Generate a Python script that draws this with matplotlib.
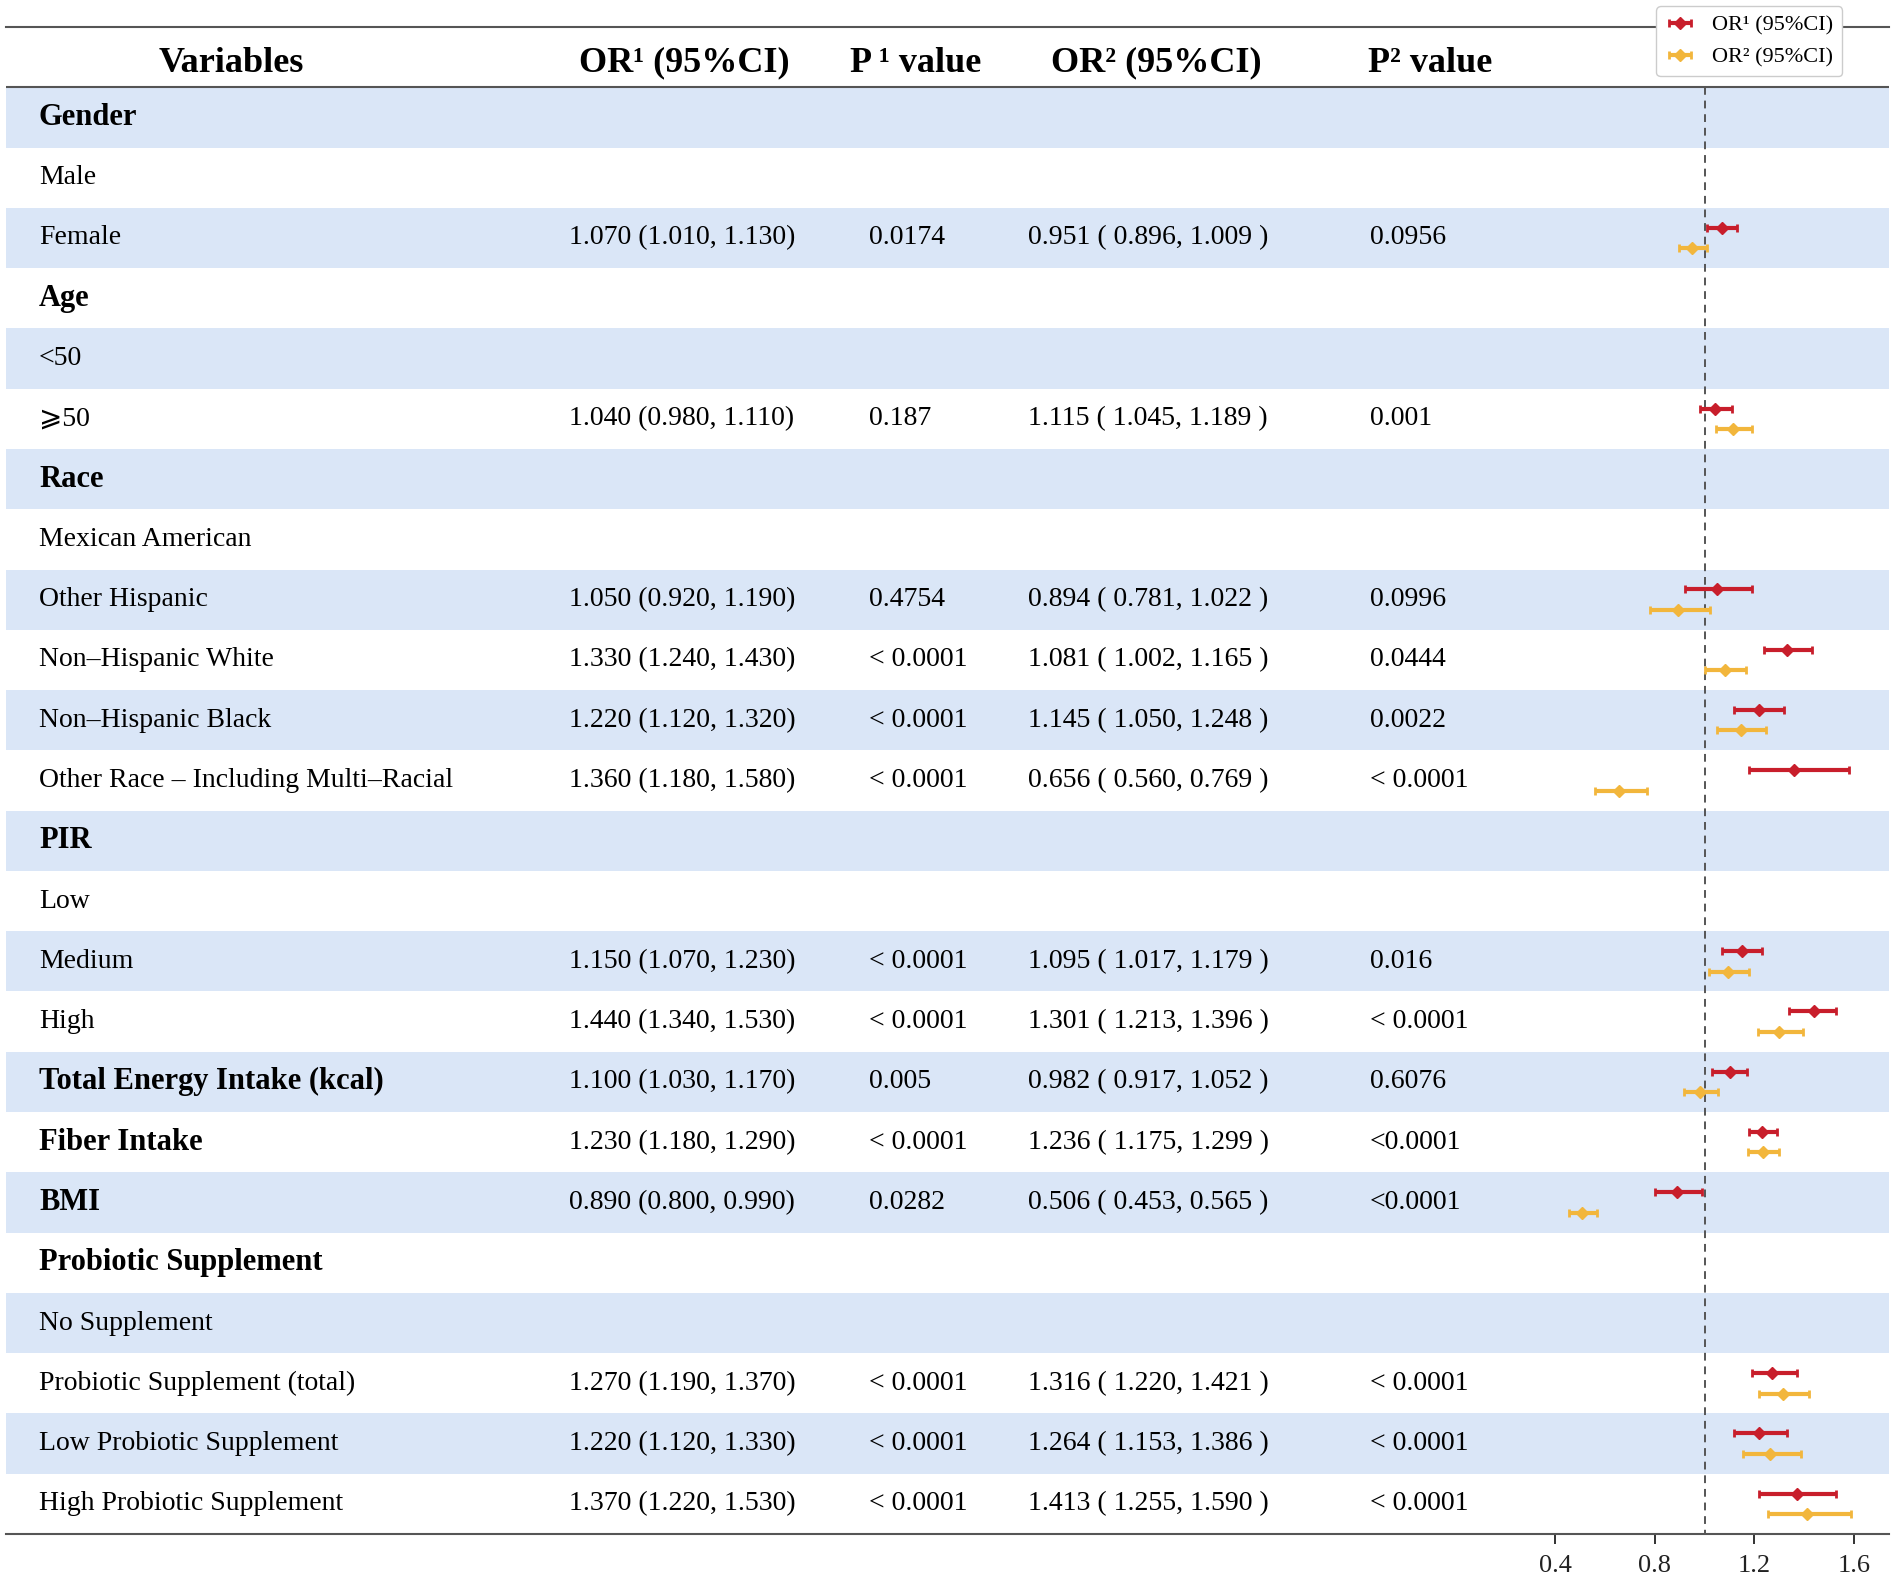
import numpy as np
import matplotlib.pyplot as plt

plt.rcParams['font.family'] = ['Liberation Serif', 'DejaVu Serif', 'DejaVu Sans']

# ---------------------------------------------------------------
# table data
labels = ['Gender', 'Male', 'Female',
          'Age', '<50', '\u2a7e50',
          'Race', 'Mexican American', 'Other Hispanic', 'Non\u2013Hispanic White',
          'Non\u2013Hispanic Black', 'Other Race \u2013 Including Multi\u2013Racial',
          'PIR', 'Low', 'Medium', 'High',
          'Total Energy Intake (kcal)', 'Fiber Intake', 'BMI',
          'Probiotic Supplement', 'No Supplement', 'Probiotic Supplement (total)',
          'Low Probiotic Supplement', 'High Probiotic Supplement']
is_group = [1, 0, 0, 1, 0, 0, 1, 0, 0, 0, 0, 0, 1, 0, 0, 0, 1, 1, 1, 1, 0, 0, 0, 0]

nan = np.nan
or1    = [nan, nan, 1.070, nan, nan, 1.040, nan, nan, 1.050, 1.330, 1.220, 1.360,
          nan, nan, 1.150, 1.440, 1.100, 1.230, 0.890, nan, nan, 1.270, 1.220, 1.370]
or1_lo = [nan, nan, 1.010, nan, nan, 0.980, nan, nan, 0.920, 1.240, 1.120, 1.180,
          nan, nan, 1.070, 1.340, 1.030, 1.180, 0.800, nan, nan, 1.190, 1.120, 1.220]
or1_hi = [nan, nan, 1.130, nan, nan, 1.110, nan, nan, 1.190, 1.430, 1.320, 1.580,
          nan, nan, 1.230, 1.530, 1.170, 1.290, 0.990, nan, nan, 1.370, 1.330, 1.530]
p1 = ['', '', '0.0174', '', '', '0.187', '', '', '0.4754', '< 0.0001', '< 0.0001', '< 0.0001',
      '', '', '< 0.0001', '< 0.0001', '0.005', '< 0.0001', '0.0282', '', '', '< 0.0001',
      '< 0.0001', '< 0.0001']

or2    = [nan, nan, 0.951, nan, nan, 1.115, nan, nan, 0.894, 1.081, 1.145, 0.656,
          nan, nan, 1.095, 1.301, 0.982, 1.236, 0.506, nan, nan, 1.316, 1.264, 1.413]
or2_lo = [nan, nan, 0.896, nan, nan, 1.045, nan, nan, 0.781, 1.002, 1.050, 0.560,
          nan, nan, 1.017, 1.213, 0.917, 1.175, 0.453, nan, nan, 1.220, 1.153, 1.255]
or2_hi = [nan, nan, 1.009, nan, nan, 1.189, nan, nan, 1.022, 1.165, 1.248, 0.769,
          nan, nan, 1.179, 1.396, 1.052, 1.299, 0.565, nan, nan, 1.421, 1.386, 1.590]
p2 = ['', '', '0.0956', '', '', '0.001', '', '', '0.0996', '0.0444', '0.0022', '< 0.0001',
      '', '', '0.016', '< 0.0001', '0.6076', '<0.0001', '<0.0001', '', '', '< 0.0001',
      '< 0.0001', '< 0.0001']

headers = ['Variables', 'OR\u00b9 (95%CI)', 'P \u00b9 value', 'OR\u00b2 (95%CI)', 'P\u00b2 value']
xticks = [0.4, 0.8, 1.2, 1.6]

red = '#c81e2b'
yellow = '#f2b63c'
band = '#dae6f7'

or1 = np.array(or1); or1_lo = np.array(or1_lo); or1_hi = np.array(or1_hi)
or2 = np.array(or2); or2_lo = np.array(or2_lo); or2_hi = np.array(or2_hi)
n = len(labels)
y = np.arange(n)

#==============================================================================
fig = plt.figure(figsize=(18.98, 15.85), dpi=100)
ax = fig.add_axes([6/1898, 1 - 1534/1585, 1883/1898, (1534 - 27)/1585])

# stripes
for i in range(0, n, 2):
    ax.axhspan(i - 0.5, i + 0.5, color=band, lw=0, zorder=0)

# header line + reference line
ax.axhline(-0.5, color='#555555', lw=1.5, zorder=2)
ax.vlines(1.0, -0.5, n - 0.5, colors='#555555', linestyles=(0, (4, 3)), lw=1.4, zorder=3)

# text columns (x in axes fraction)
tr = ax.get_yaxis_transform()
hx = [0.1195, 0.360, 0.4833, 0.6107, 0.7562]
for x, h in zip(hx, headers):
    ax.text(x, -0.9, h, transform=tr, ha='center', va='center',
            fontsize=26, fontweight='bold')

for i in range(n):
    if is_group[i]:
        ax.text(0.0175, i, labels[i], transform=tr, va='center',
                fontsize=22, fontweight='bold')
    else:
        ax.text(0.0175, i, labels[i], transform=tr, va='center', fontsize=20)
    if not np.isnan(or1[i]):
        ax.text(0.299, i, '{:.3f} ({:.3f}, {:.3f})'.format(or1[i], or1_lo[i], or1_hi[i]),
                transform=tr, va='center', fontsize=20)
        ax.text(0.4583, i, p1[i], transform=tr, va='center', fontsize=20)
        ax.text(0.5428, i, '{:.3f} ( {:.3f}, {:.3f} )'.format(or2[i], or2_lo[i], or2_hi[i]),
                transform=tr, va='center', fontsize=20)
        ax.text(0.7244, i, p2[i], transform=tr, va='center', fontsize=20)

# forest plot
off = 0.17
ax.errorbar(or1, y - off, xerr=[or1 - or1_lo, or1_hi - or1], fmt='D', color=red,
            ms=6, elinewidth=3, capsize=3, capthick=2, label='OR\u00b9 (95%CI)', zorder=4)
ax.errorbar(or2, y + off, xerr=[or2 - or2_lo, or2_hi - or2], fmt='D', color=yellow,
            ms=6, elinewidth=3, capsize=3, capthick=2, label='OR\u00b2 (95%CI)', zorder=4)

# axes
ax.set_xlim(-5.833, 1.7416)
ax.set_ylim(n - 0.5, -1.5)
ax.set_xticks(xticks)
ax.set_xticklabels(['{:.1f}'.format(t) for t in xticks], fontsize=19)
ax.set_yticks([])
ax.tick_params(axis='x', length=7, width=1.3, pad=8, colors='#222222')
for s in ['left', 'right']:
    ax.spines[s].set_visible(False)
for s in ['top', 'bottom']:
    ax.spines[s].set_color('#555555')
    ax.spines[s].set_linewidth(1.5)

leg = fig.legend(loc='upper right', bbox_to_anchor=(0.9705, 0.996), fontsize=16,
                 handlelength=1.3, frameon=True, fancybox=True, edgecolor='#cccccc',
                 framealpha=1, borderaxespad=0)

fig.savefig('out.png', dpi=100)
